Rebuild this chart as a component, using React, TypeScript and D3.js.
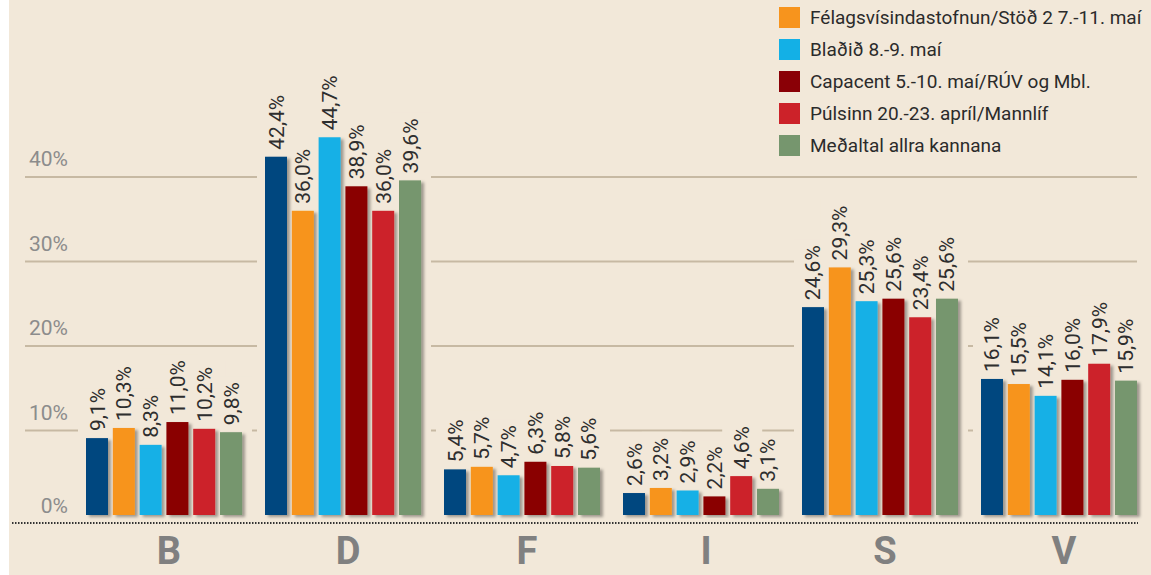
import * as d3 from 'd3';
import React from 'react';

const categories = ['B', 'D', 'F', 'I', 'S', 'V'];
// first series (dark blue) has its legend entry above the visible area
const seriesNames = [
  '',
  'Félagsvísindastofnun/Stöð 2 7.-11. maí',
  'Blaðið 8.-9. maí',
  'Capacent 5.-10. maí/RÚV og Mbl.',
  'Púlsinn 20.-23. apríl/Mannlíf',
  'Meðaltal allra kannana',
];
const seriesColors = ['#00467f', '#f7941d', '#13b0e6', '#8a0006', '#cc2229', '#76966e'];
const series0 = [9.1, 42.4, 5.4, 2.6, 24.6, 16.1];
const series1 = [10.3, 36.0, 5.7, 3.2, 29.3, 15.5];
const series2 = [8.3, 44.7, 4.7, 2.9, 25.3, 14.1];
const series3 = [11.0, 38.9, 6.3, 2.2, 25.6, 16.0];
const series4 = [10.2, 36.0, 5.8, 4.6, 23.4, 17.9];
const series5 = [9.8, 39.6, 5.6, 3.1, 25.6, 15.9];
const yTicks = [0, 10, 20, 30, 40];

const allSeries = [series0, series1, series2, series3, series4, series5];

const W = 1151;
const H = 575;
const BG = '#f2e8d9';
const FONT = 'Roboto, "Noto Sans", sans-serif';

let ctx: CanvasRenderingContext2D | null = null;
function measure(text: string, font: string) {
  if (!ctx) ctx = document.createElement('canvas').getContext('2d');
  if (!ctx) return text.length * 11;
  ctx.font = font;
  return ctx.measureText(text).width;
}

const fmt = (v: number) => v.toFixed(1).replace('.', ',') + '%';

export default function App() {
  const y = d3.scaleLinear().domain([0, 10]).range([515, 430.5]);
  const x0 = d3.scaleBand<string>().domain(categories).range([74.5, 1148.5]).paddingInner(0.1285).paddingOuter(0.0643);
  const x1 = d3
    .scaleBand<number>()
    .domain(d3.range(allSeries.length))
    .range([0, x0.bandwidth()])
    .paddingInner(0.179);

  const labelSize = 21;
  const labelFont = `${labelSize}px Roboto`;

  const bars = categories.flatMap((c, ci) =>
    allSeries.map((s, si) => {
      const v = s[ci];
      const bx = (x0(c) as number) + (x1(si) as number);
      const top = y(v);
      const text = fmt(v);
      const len = measure(text, labelFont);
      return { key: `${c}-${si}`, bx, top, v, text, len, color: seriesColors[si] };
    })
  );

  return (
    <svg width={W} height={H} style={{ position: 'absolute', left: 0, top: 0, display: 'block' }}>
      <defs>
        <filter id="shadow" x="-20%" y="-5%" width="160%" height="120%">
          <feDropShadow dx="3" dy="2" stdDeviation="1.6" floodColor="#000" floodOpacity="0.35" />
        </filter>
      </defs>
      <rect x={0} y={0} width={W} height={H} fill="#fff" />
      <rect x={9} y={0} width={W - 9} height={H} fill={BG} />

      {/* gridlines */}
      {yTicks
        .filter((t) => t > 0)
        .map((t) => (
          <line key={t} x1={25} x2={1137} y1={y(t)} y2={y(t)} stroke="#c7b9a3" strokeWidth={2} />
        ))}
      {yTicks.map((t) => (
        <text
          key={t}
          x={68}
          y={t === 0 ? y(0) - 2 : y(t) - 11}
          textAnchor="end"
          fontFamily={FONT}
          fontSize={21}
          fill="#8c8c8c"
        >
          {t}%
        </text>
      ))}

      {/* knock out gridlines behind bars and labels */}
      {bars.map((b) => (
        <rect
          key={'m' + b.key}
          x={b.bx - 8}
          y={b.top - 7 - b.len - 6}
          width={x1.bandwidth() + 18}
          height={y(0) - (b.top - 7 - b.len - 6)}
          fill={BG}
        />
      ))}

      {bars.map((b) => (
        <rect
          key={b.key}
          x={b.bx}
          y={b.top}
          width={x1.bandwidth()}
          height={y(0) - b.top}
          fill={b.color}
          filter="url(#shadow)"
        />
      ))}

      {bars.map((b) => {
        const cx = b.bx + x1.bandwidth() / 2 + 7.5;
        const ty = b.top - 7;
        return (
          <text
            key={'t' + b.key}
            transform={`translate(${cx},${ty}) rotate(-90)`}
            fontFamily={FONT}
            fontSize={labelSize}
            fill="#2e2e2e"
          >
            {b.text}
          </text>
        );
      })}

      {/* dotted baseline */}
      <line x1={12} x2={1138} y1={523} y2={523} stroke="#333" strokeWidth={2} strokeDasharray="1.5 1.5" />

      {categories.map((c) => (
        <text
          key={c}
          x={(x0(c) as number) + x0.bandwidth() / 2 + 5}
          y={564}
          textAnchor="middle"
          fontFamily={FONT}
          fontWeight="bold"
          fontSize={38}
          fill="#808080"
        >
          {c}
        </text>
      ))}

      {/* legend */}
      <g transform="translate(779,0)">
        {seriesNames.map((name, i) => {
          if (!name) return null;
          const ly = 7 + 32 * (i - 1);
          return (
            <g key={name} transform={`translate(0,${ly})`}>
              <rect width={21} height={21} fill={seriesColors[i]} />
              <text x={31} y={17} fontFamily={FONT} fontSize={19} fill="#2b2b2b">
                {name}
              </text>
            </g>
          );
        })}
      </g>
    </svg>
  );
}
